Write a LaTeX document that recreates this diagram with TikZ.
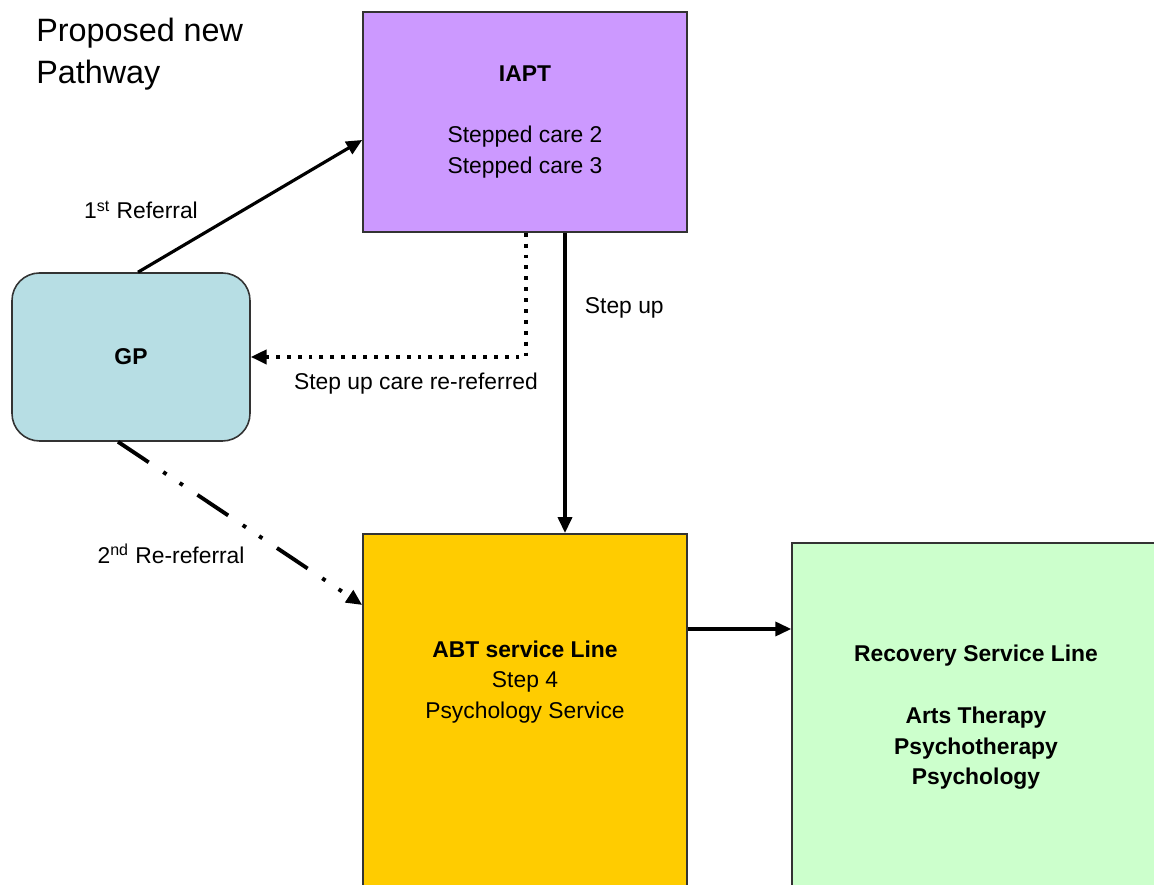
\documentclass[tikz,border=0pt]{standalone}
\usepackage{fontspec}
\setmainfont{Liberation Sans}
\usepackage{xcolor}
\usepackage{tikz}
\usetikzlibrary{arrows.meta, positioning}

\definecolor{iaptpurple}{RGB}{204,153,255}
\definecolor{gpblue}{RGB}{183,222,228}
\definecolor{abtyellow}{RGB}{255,204,0}
\definecolor{recgreen}{RGB}{204,255,204}

\begin{document}
\begin{tikzpicture}[
    box/.style={rectangle, draw=black!80, line width=0.9pt, font=\fontsize{13}{17.5}\selectfont, align=center},
    iaptbox/.style={box, fill=iaptpurple, minimum width=6.48cm, minimum height=4.4cm},
    gpbox/.style={box, fill=gpblue, rounded corners=0.55cm, minimum width=4.76cm, minimum height=3.36cm},
    abtbox/.style={box, fill=abtyellow, minimum width=6.48cm, minimum height=7.4cm, anchor=north},
    recbox/.style={box, fill=recgreen, minimum width=7.36cm, minimum height=6.98cm},
    boxtext/.style={font=\fontsize{13}{17.5}\selectfont, align=center},
    lbl/.style={font=\fontsize{13}{15}\selectfont},
    titletext/.style={font=\fontsize{18.4}{23.8}\selectfont, align=left, anchor=north west, inner sep=0pt},
    arrow/.style={->, line width=1.8pt, >={Triangle[length=9pt,width=8pt]}},
    dotarrow/.style={arrow, line width=2.2pt, dash pattern=on 2.2pt off 4pt},
    dasharrow/.style={arrow, line width=2.2pt, dash pattern=on 21pt off 10pt on 2.2pt off 9pt on 2.2pt off 10pt}
]
\clip (0,0) rectangle (23.08,17.7);

% Title
\node[titletext] (title) at (0.72,17.34) {Proposed new\\Pathway};

% Boxes
\node[iaptbox] at (10.5,15.26) (iapt) {\textbf{IAPT}\\[17.5pt]Stepped care 2\\Stepped care 3};
\node[gpbox] at (2.62,10.56) (gp) {\textbf{GP}};
\node[abtbox] at (10.5,7.04) (abt) {};
\node[boxtext] at (10.5,4.06) (abttext) {\textbf{ABT service Line}\\Step 4\\Psychology Service};
\node[recbox] at (19.52,3.35) (rec) {\textbf{Recovery Service Line}\\[17.5pt]\textbf{Arts Therapy}\\\textbf{Psychotherapy}\\\textbf{Psychology}};

% GP to IAPT
\draw[arrow] ([xshift=0.14cm]gp.north) -- node[lbl, pos=0.3, above left, yshift=0.12cm] (firstref) {1\textsuperscript{st} Referral} ([yshift=-0.36cm]iapt.west);

% IAPT back to GP - dotted
\draw[dotarrow] ([xshift=0.02cm]iapt.south) |- node[lbl, pos=0.7, below, yshift=-0.16cm] (reref) {Step up care re-referred} (gp.east);

% IAPT to ABT
\draw[arrow] ([xshift=0.8cm]iapt.south) -- node[lbl, pos=0.25, right, xshift=0.25cm] (stepup) {Step up} ([xshift=0.8cm]abt.north);

% GP to ABT - dash dot dot
\draw[dasharrow] ([xshift=-0.26cm]gp.south) -- node[lbl, pos=0.55, below left, yshift=-0.1cm] (secondref) {2\textsuperscript{nd} Re-referral} ([yshift=-1.44cm]abt.north west);

% ABT to Recovery
\draw[arrow] ([yshift=-1.92cm]abt.north east) -- ([yshift=-1.92cm]abt.north east -| rec.west);

\end{tikzpicture}
\end{document}
